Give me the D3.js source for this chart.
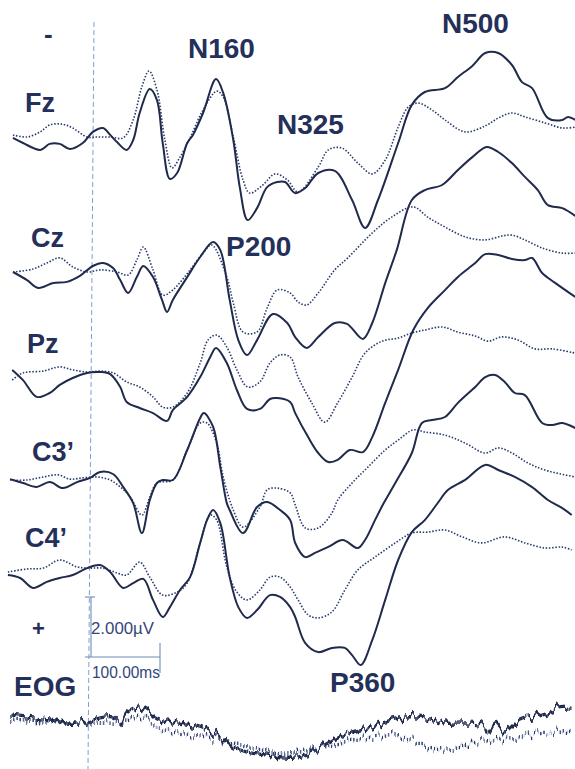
<!DOCTYPE html>
<html>
<head>
<meta charset="utf-8">
<script src="https://cdn.jsdelivr.net/npm/d3@7/dist/d3.min.js"></script>
<style>
  html, body { margin: 0; padding: 0; background: #fff; }
  svg { display: block; }
</style>
</head>
<body>
<svg id="chart" width="575" height="769"></svg>
<script>
// Grand-average ERP waveforms, negative plotted up.
// Each series: [time (ms), amplitude (µV)]. Solid = condition A, dotted = condition B.

const fzSolid = [[-107,-0.07],[-93,0.10],[-69,0.33],[-56,0.13],[-42,0.13],[-28,0.30],[-10,0.10],[4,-0.27],[18,-0.40],[28,-0.17],[37.5,0.07],[51,0.33],[60,0.00],[69,-0.90],[83,-1.70],[93,-1.33],[101,0.10],[111,1.30],[121,1.10],[135,0.10],[143,-0.17],[157,-0.90],[175,-2.03],[185,-1.57],[199,0.00],[208,1.57],[219,2.67],[232,2.27],[246,1.57],[260,1.40],[271,1.40],[285,1.77],[299,1.60],[317,1.10],[340,1.03],[364,2.00],[382,2.93],[400,2.00],[428,0.10],[447,-1.17],[465,-1.60],[493,-1.73],[511,-2.10],[531,-2.47],[549,-2.90],[567,-2.90],[586,-2.50],[600,-1.93],[614,-1.73],[636,-0.73],[656,-0.67],[664,-0.77],[674,-0.67]];
const fzDotted = [[-107,-0.17],[-87.5,-0.10],[-69,-0.27],[-56,-0.50],[-39,-0.53],[-24,-0.40],[-4,-0.10],[10,-0.10],[28,-0.10],[46,-0.07],[60,-0.67],[72,-1.77],[82,-2.30],[93,-1.67],[104,0.00],[114,0.93],[125,0.57],[139,-0.07],[157,-1.00],[176,-1.63],[185,-1.43],[199,-0.10],[212.5,1.33],[222,1.77],[240,1.50],[257,1.13],[274,1.33],[289,1.73],[317,0.90],[331,0.33],[350,0.27],[372,0.77],[392,1.13],[410,0.67],[428,-0.43],[442,-1.10],[456,-1.23],[475,-1.00],[493,-0.67],[521,-0.27],[549,-0.47],[567,-0.73],[586,-0.90],[604,-0.77],[632,-0.57],[656,-0.40],[674,-0.43]];

const czSolid = [[-107,0.00],[-87.5,0.27],[-72,0.53],[-51,0.37],[-32,0.33],[-14,0.13],[4,-0.20],[18,-0.30],[32,-0.13],[42,0.27],[53,0.70],[65,0.17],[74,-0.20],[87.5,0.17],[100,0.93],[107,1.33],[115,0.93],[135,0.17],[153,-0.50],[171,-1.00],[181,-0.73],[194,0.93],[206,2.27],[218,2.77],[232,2.27],[254,1.40],[274,1.70],[285,2.17],[301,2.53],[317,2.17],[340,1.70],[357,1.73],[379,2.23],[392,1.70],[410,0.37],[426,-0.73],[447,-2.40],[465,-2.73],[489,-2.90],[511,-3.40],[531,-3.83],[551,-4.17],[567,-4.00],[586,-3.63],[604,-3.17],[622,-2.73],[636,-2.23],[656,-2.13],[674,-1.87]];
const czDotted = [[-107,0.00],[-79,-0.10],[-60,-0.30],[-42,-0.47],[-24,-0.17],[-4,0.00],[14,-0.07],[37.5,0.00],[53,0.10],[65,-0.40],[74,-0.83],[87.5,-0.07],[101,0.77],[115,0.60],[139,-0.07],[157,-0.63],[169,-0.90],[190,0.17],[199,1.03],[212.5,2.00],[232,2.00],[246,1.20],[260,0.60],[278,0.70],[289,1.00],[301,1.10],[317,0.70],[340,-0.07],[358,-0.47],[392,-1.30],[419,-1.83],[449,-2.17],[469,-1.83],[493,-1.50],[521,-1.17],[549,-1.07],[572,-1.20],[586,-1.23],[604,-1.07],[628,-0.80],[656,-0.63],[674,-0.63]];

const pzSolid = [[-108,-0.17],[-93,0.17],[-74,0.73],[-56,0.60],[-42,0.33],[-24,0.10],[-4,-0.07],[14,-0.10],[28,-0.03],[42,0.40],[51,0.90],[69,1.10],[87.5,1.27],[107,1.53],[115,1.17],[135,0.73],[153,0.07],[167,-0.60],[175,-0.90],[190,-0.40],[204,0.50],[218,1.13],[236,1.13],[250,0.80],[260,0.77],[278,0.90],[285,1.27],[303,2.07],[317,2.60],[331,2.90],[344,2.83],[361,2.50],[379,2.57],[392,2.07],[410,0.93],[428,-0.17],[449,-1.50],[469,-2.23],[493,-2.83],[511,-3.27],[535,-3.73],[549,-4.03],[567,-4.00],[586,-3.87],[604,-3.83],[614,-3.90],[628,-3.40],[646,-3.07],[674,-2.60]];
const pzDotted = [[-108,0.17],[-93,-0.07],[-65,-0.13],[-42,-0.27],[-24,-0.17],[-4,-0.10],[14,-0.13],[32,-0.07],[51,0.23],[69,0.40],[87.5,0.73],[101,1.07],[115,1.07],[135,0.60],[153,-0.40],[164,-1.17],[176,-1.33],[190,-0.93],[204,-0.17],[219,0.40],[236,0.23],[250,-0.40],[264,-0.67],[278,-0.60],[289,0.07],[308,0.93],[326,1.57],[344,0.93],[364,0.07],[382,-0.73],[406,-1.13],[428,-1.23],[447,-1.40],[465,-1.50],[489,-1.60],[511,-1.43],[535,-1.30],[553,-1.13],[572,-1.27],[594,-1.17],[618,-0.87],[642,-0.87],[674,-0.73]];

const c3Solid = [[-111,-0.03],[-93,0.10],[-74,0.23],[-56,0.07],[-37.5,0.27],[-18,0.07],[0,-0.07],[14,-0.27],[32,-0.20],[46,0.23],[60,0.77],[72,1.77],[83,0.67],[93,0.10],[101,0.00],[115,0.00],[135,-1.00],[153,-2.07],[158,-2.23],[171,-1.77],[181,-0.43],[190,0.77],[194,1.00],[212.5,1.77],[232,0.90],[246,0.73],[264,1.00],[278,1.33],[285,2.10],[299,2.57],[312.5,2.43],[331,2.23],[351,2.00],[372,2.27],[382,2.00],[396,1.33],[408,0.77],[424,0.10],[447,-0.90],[461,-1.90],[475,-2.00],[493,-2.10],[511,-2.57],[535,-3.10],[549,-3.43],[562.5,-3.50],[576,-3.27],[590,-2.90],[604,-2.83],[628,-1.90],[642,-1.83],[656,-1.90],[674,-1.73]];
const c3Dotted = [[-111,0.00],[-87.5,0.00],[-65,-0.10],[-44,-0.17],[-28,-0.03],[-10,-0.07],[10,-0.10],[28,0.00],[42,0.23],[56,0.57],[72,1.17],[83,0.57],[93,0.10],[115,0.00],[135,-1.00],[153,-1.90],[162.5,-1.90],[176,-1.23],[185,-0.10],[199,1.00],[212.5,1.57],[236,0.90],[246,0.33],[260,0.27],[278,0.43],[285,0.83],[299,1.60],[317,1.60],[336,1.10],[344,0.67],[364,0.10],[386,-0.43],[410,-1.00],[428,-1.33],[449,-1.67],[465,-1.60],[493,-1.50],[521,-1.23],[549,-0.90],[567,-1.07],[586,-0.90],[608,-0.57],[632,-0.33],[674,-0.10]];

const c4Solid = [[-114,0.10],[-97,0.20],[-79,0.53],[-60,0.33],[-42,0.20],[-24,0.10],[-4,-0.13],[14,-0.23],[28,0.00],[46,0.53],[60,0.37],[74,0.23],[87.5,0.93],[101,1.50],[111,1.17],[125,0.60],[139,0.17],[153,-0.97],[162.5,-1.73],[171,-2.07],[181,-1.63],[194,0.17],[206,1.17],[218,1.53],[232,1.27],[250,0.77],[264,0.83],[278,1.17],[285,1.50],[299,2.37],[317,2.67],[336,2.53],[354,2.53],[364,2.77],[376,3.10],[392,2.27],[410,0.93],[428,-0.40],[447,-1.33],[465,-1.73],[483,-2.30],[497,-2.73],[521,-3.07],[549,-3.57],[567,-3.40],[590,-3.17],[614,-2.83],[636,-2.40],[656,-2.13],[669,-1.90]];
const c4Dotted = [[-114,0.00],[-87.5,-0.10],[-65,-0.13],[-42,-0.40],[-18,-0.17],[0,-0.13],[18,-0.13],[37.5,0.03],[51,0.10],[69,-0.33],[83,0.17],[101,0.77],[121,0.67],[135,0.37],[153,-0.97],[167,-1.90],[176,-1.73],[190,-0.17],[204,0.67],[218,0.93],[236,0.60],[250,0.17],[264,0.17],[278,0.50],[289,0.93],[303,1.43],[317,1.53],[336,1.33],[354,0.60],[372,-0.07],[396,-0.50],[424,-0.97],[447,-1.30],[469,-1.33],[493,-1.40],[517,-1.17],[544,-0.97],[576,-1.17],[604,-0.97],[632,-0.80],[656,-0.83],[669,-0.73]];

const eogSolid = [[-111,-0.17],[-79,-0.07],[-56,0.00],[-32,0.10],[-4,0.07],[14,-0.07],[32,-0.10],[42,0.10],[51,-0.27],[69,-0.43],[79,-0.33],[93,-0.07],[115,0.07],[143,0.17],[162.5,0.33],[181,0.57],[199,0.90],[218,1.07],[246,1.17],[268,1.23],[289,1.23],[308,1.07],[326,0.83],[344,0.57],[364,0.40],[392,0.23],[410,0.07],[437.5,-0.10],[465,-0.07],[493,0.10],[521,0.10],[544,0.17],[553,0.43],[562.5,0.10],[576,0.40],[594,0.07],[614,-0.10],[632,-0.23],[650,-0.40],[669,-0.43]];
const eogDotted = [[-111,0.00],[-32,0.10],[14,0.10],[46,0.07],[60,-0.10],[74,-0.10],[93,0.23],[115,0.40],[143,0.50],[171,0.60],[199,0.77],[226,0.93],[254,1.07],[274,1.10],[299,1.00],[326,0.90],[364,0.67],[392,0.57],[424,0.50],[456,0.77],[489,1.00],[511,0.93],[531,0.77],[558,0.67],[594,0.60],[622,0.43],[656,0.40],[669,0.33]];

// Channel names and component labels
const channelNames = ["Fz", "Cz", "Pz", "C3\u2019", "C4\u2019", "EOG"];
const componentLabels = ["N160", "N500", "N325", "P200", "P360"];
const scaleLabels = ["2.000\u00b5V", "100.00ms"];

// ---- layout ----
const svg = d3.select("#chart");
const ink = "#1f2a4c";
const dotInk = "#283a6e";
const guide = "#7aa3d2";

// time axis: 100 ms spans 72 px, stimulus onset at x = 90
const x = d3.scaleLinear().domain([0, 100]).range([90, 162]);
const uvPx = 30; // pixels per µV

const traces = [
  { name: channelNames[0], base: 140, solid: fzSolid, dotted: fzDotted },
  { name: channelNames[1], base: 272, solid: czSolid, dotted: czDotted },
  { name: channelNames[2], base: 375, solid: pzSolid, dotted: pzDotted },
  { name: channelNames[3], base: 480, solid: c3Solid, dotted: c3Dotted },
  { name: channelNames[4], base: 572, solid: c4Solid, dotted: c4Dotted },
  { name: channelNames[5], base: 720, solid: eogSolid, dotted: eogDotted, noisy: true }
];

// vertical-only jitter for the raw-looking EOG trace
const defs = svg.append("defs");
const f = defs.append("filter").attr("id", "eogNoise")
  .attr("color-interpolation-filters", "sRGB")
  .attr("x", "-2%").attr("y", "-60%").attr("width", "104%").attr("height", "220%");
f.append("feTurbulence").attr("type", "fractalNoise").attr("baseFrequency", "0.2 0.004")
  .attr("numOctaves", 2).attr("seed", 7).attr("result", "n");
f.append("feColorMatrix").attr("in", "n").attr("type", "matrix")
  .attr("values", "0 0 0 0 0.5  0 1.6 0 0 -0.3  0 0 0 0 0  0 0 0 0 1").attr("result", "m");
f.append("feDisplacementMap").attr("in", "SourceGraphic").attr("in2", "m")
  .attr("scale", 11).attr("xChannelSelector", "R").attr("yChannelSelector", "G").attr("result", "d");
f.append("feMorphology").attr("in", "d").attr("operator", "dilate").attr("radius", "0 0.5");

// stimulus onset line
svg.append("line")
  .attr("x1", x(0) + 4).attr("x2", x(0) - 2)
  .attr("y1", 22).attr("y2", 769)
  .attr("stroke", guide).attr("stroke-width", 1)
  .attr("stroke-dasharray", "5,3");

traces.forEach(tr => {
  const y = d3.scaleLinear().domain([0, 1]).range([tr.base, tr.base + uvPx]);
  const line = d3.line()
    .x(d => x(d[0])).y(d => y(d[1]))
    .curve(d3.curveCatmullRom.alpha(0.5));
  const g = svg.append("g");
  if (tr.noisy) g.attr("filter", "url(#eogNoise)");
  g.append("path").datum(tr.dotted)
    .attr("d", line).attr("fill", "none")
    .attr("stroke", dotInk).attr("stroke-width", tr.noisy ? 1.3 : 1.6)
    .attr("stroke-dasharray", "1.5,1.7");
  g.append("path").datum(tr.solid)
    .attr("d", line).attr("fill", "none")
    .attr("stroke", ink).attr("stroke-width", tr.noisy ? 1.4 : 2)
    .attr("stroke-linejoin", "round");
});

// text labels
const bold = "'Liberation Sans', Arial, sans-serif";
const labelColor = "#24305a";
const chanPos = [[25,112],[31,247],[27,353],[32,461],[25,547],[14,696]];
channelNames.forEach((n, i) => {
  svg.append("text").attr("x", chanPos[i][0]).attr("y", chanPos[i][1])
    .attr("font-family", bold).attr("font-weight", "bold")
    .attr("font-size", i === 5 ? 28 : 27).attr("fill", labelColor).text(n);
});
const compPos = [[188,58],[442,33],[277,134],[226,256],[330,692]];
componentLabels.forEach((n, i) => {
  svg.append("text").attr("x", compPos[i][0]).attr("y", compPos[i][1])
    .attr("font-family", bold).attr("font-weight", "bold")
    .attr("font-size", 28).attr("fill", labelColor).text(n);
});
// polarity marks
svg.append("text").attr("x", 44).attr("y", 43)
  .attr("font-family", bold).attr("font-weight", "bold").attr("font-size", 26)
  .attr("fill", labelColor).text("-");
svg.append("text").attr("x", 32).attr("y", 636)
  .attr("font-family", bold).attr("font-weight", "bold").attr("font-size", 22)
  .attr("fill", labelColor).text("+");

// calibration bar: 2 µV vertical, 100 ms horizontal
const cal = svg.append("g").attr("stroke", "#6f8db5").attr("stroke-width", 1.1);
const calTop = 597, calBot = calTop + 2 * uvPx;
cal.append("line").attr("x1", x(0) - 5).attr("x2", x(0) + 5).attr("y1", calTop).attr("y2", calTop);
cal.append("line").attr("x1", x(0) + 1).attr("x2", x(0) + 1).attr("y1", calTop).attr("y2", calBot);
cal.append("line").attr("x1", x(0) - 5).attr("x2", x(100) - 2).attr("y1", calBot).attr("y2", calBot);
cal.append("line").attr("x1", x(100) - 2).attr("x2", x(100) - 2).attr("y1", calBot - 14).attr("y2", calBot + 16);
const narrow = "'Liberation Sans Narrow', 'Liberation Sans', Arial, sans-serif";
svg.append("text").attr("x", 91).attr("y", 634)
  .attr("font-family", narrow).attr("font-size", 16).attr("fill", "#34457a")
  .attr("textLength", 63).attr("lengthAdjust", "spacingAndGlyphs").text(scaleLabels[0]);
svg.append("text").attr("x", 92).attr("y", 678)
  .attr("font-family", narrow).attr("font-size", 16).attr("fill", "#34457a")
  .attr("textLength", 68).attr("lengthAdjust", "spacingAndGlyphs").text(scaleLabels[1]);
</script>
</body>
</html>
